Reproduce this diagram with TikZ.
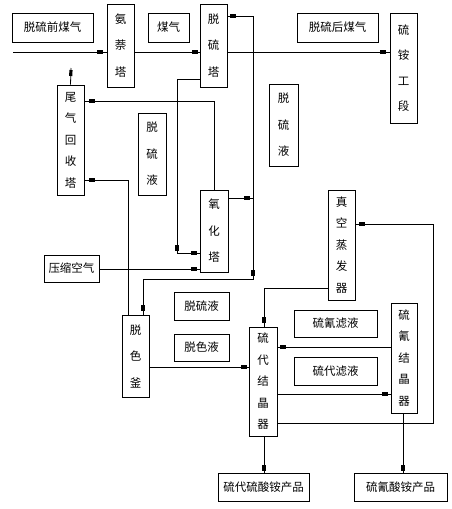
\documentclass[tikz,border=0pt]{standalone}
\usepackage{fontspec}
\newfontfamily\cjk{Noto Sans CJK SC}
\usetikzlibrary{decorations.markings}
\tikzset{
  bx/.style={draw, line width=0.8pt, inner sep=0pt, align=center, font=\cjk\fontsize{11.5pt}{14pt}\selectfont},
  vthree/.style={font=\cjk\fontsize{11.5pt}{26.5pt}\selectfont},
  vfour/.style={font=\cjk\fontsize{11.5pt}{25.5pt}\selectfont},
  vfive/.style={font=\cjk\fontsize{11.5pt}{21.5pt}\selectfont},
  ln/.style={line width=0.8pt},
  mk/.style={postaction={decorate, decoration={markings, mark=at position #1 with {\fill (-3pt,-1.6pt) rectangle (3pt,1.6pt);}}}}
}
\begin{document}
\begin{tikzpicture}[x=1pt,y=-1pt]
\useasboundingbox (0,0) rectangle (452,509);
% boxes
\node[bx, minimum width=81pt, minimum height=29pt] (pre) at (52.5,27.5) {脱硫前煤气};
\node[bx, vthree, minimum width=27pt, minimum height=83pt] (anb) at (120.5,45.5) {氨\\萘\\塔};
\node[bx, minimum width=41pt, minimum height=29pt] (mq) at (168.5,27.5) {煤气};
\node[bx, vthree, minimum width=27pt, minimum height=83pt] (tlt) at (213.5,45.5) {脱\\硫\\塔};
\node[bx, minimum width=81pt, minimum height=29pt] (post) at (337.5,27.5) {脱硫后煤气};
\node[bx, vfour, minimum width=27pt, minimum height=110pt] (la) at (403.5,68) {硫\\铵\\工\\段};
\node[bx, vfive, minimum width=27pt, minimum height=110pt] (ww) at (70.5,140) {尾\\气\\回\\收\\塔};
\node[bx, vthree, minimum width=28pt, minimum height=82pt] (tlya) at (152,154) {脱\\硫\\液};
\node[bx, vthree, minimum width=29pt, minimum height=82pt] (tlyb) at (283.5,125) {脱\\硫\\液};
\node[bx, vthree, minimum width=28pt, minimum height=82pt] (yht) at (214,231) {氧\\化\\塔};
\node[bx, minimum width=55pt, minimum height=27pt] (ysk) at (71.5,268.5) {压缩空气};
\node[bx, vfive, minimum width=27pt, minimum height=110pt] (zk) at (341.5,245) {真\\空\\蒸\\发\\器};
\node[bx, vthree, minimum width=27pt, minimum height=82pt] (tsf) at (135.5,356) {脱\\色\\釜};
\node[bx, minimum width=55pt, minimum height=28pt] (tlyc) at (201.5,306) {脱硫液};
\node[bx, minimum width=55pt, minimum height=27pt] (tsy) at (201.5,347.5) {脱色液};
\node[bx, vfive, minimum width=28pt, minimum height=109pt] (ld) at (263,381.5) {硫\\代\\结\\晶\\器};
\node[bx, minimum width=83pt, minimum height=27pt] (lqly) at (335.5,323.5) {硫氰滤液};
\node[bx, minimum width=83pt, minimum height=28pt] (ldly) at (335.5,371) {硫代滤液};
\node[bx, vfive, minimum width=26pt, minimum height=110pt] (lq) at (404,358) {硫\\氰\\结\\晶\\器};
\node[bx, minimum width=91pt, minimum height=28pt] (pa) at (263.5,487) {硫代硫酸铵产品};
\node[bx, minimum width=93pt, minimum height=28pt] (pb) at (400.5,487) {硫氰酸铵产品};
% coordinates
\coordinate (gin) at (13,52);
\coordinate (jn) at (253,198);
\coordinate (tail) at (71,68);
% main gas line
\draw[ln, mk=-7pt] (gin) -- (gin -| anb.west);
\draw[ln, mk=-5pt] (anb.east |- gin) -- (tlt.west |- gin);
\draw[ln, mk=-7pt] (tlt.east |- gin) -- (la.west |- gin);
% oxidation tower outlet to desulfurization tower and decolor kettle
\draw[ln, mk=19pt, mk=-6pt] (yht.east |- jn) -- (jn) |- (tlt.east |- 0,16);
\draw[ln, mk=75pt, mk=-7pt] (jn) -- (253,279) -| (tsf.north -| 143,0);
% desulfurization tower to oxidation tower
\draw[ln, mk=192pt, mk=-6pt] (tlt.west |- 0,79) -| (177,253) -- (yht.west |- 0,253);
% compressed air
\draw[ln, mk=-6pt] (ysk.east |- 0,269) -- (yht.west |- 0,269);
% oxidation tower top to tail gas tower
\draw[ln, mk=-8pt] (yht.north) |- (ww.east |- 0,101);
% decolor kettle to tail gas tower
\draw[ln, mk=-8pt] (tsf.north -| 128,0) |- (ww.east |- 0,180);
% tail gas out
\draw[ln, mk=-5pt] (ww.north) -- (tail);
% decolor kettle to thio crystallizer
\draw[ln, mk=-5pt] (tsf.east |- 0,367) -- (ld.west |- 0,367);
% evaporator to thio crystallizer
\draw[ln, mk=-7pt] (zk.west |- 0,288) -| (ld.north -| 264,0);
% thio crystallizer to evaporator
\draw[ln, mk=-7pt] (ld.east |- 0,423) -- (433,423) |- (zk.east |- 0,224);
% between crystallizers
\draw[ln, mk=-6pt] (lq.west |- 0,347) -- (ld.east |- 0,347);
\draw[ln, mk=-6pt] (ld.east |- 0,394) -- (lq.west |- 0,394);
% products
\draw[ln, mk=-5pt] (ld.south -| 264,0) -- (pa.north -| 264,0);
\draw[ln, mk=-5pt] (lq.south -| 403,0) -- (pb.north -| 403,0);
\end{tikzpicture}
\end{document}
